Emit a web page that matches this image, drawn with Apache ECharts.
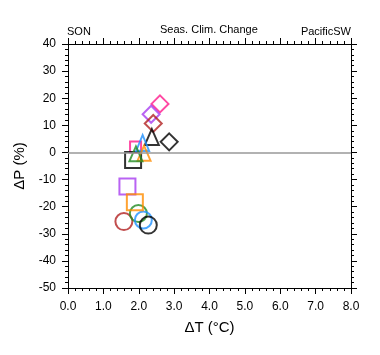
<!DOCTYPE html>
<html>
<head>
<meta charset="utf-8">
<script src="https://cdn.jsdelivr.net/npm/echarts@6/dist/echarts.min.js"></script>
<style>
html,body{margin:0;padding:0;background:#fff;}
#c{width:380px;height:355px;}
</style>
</head>
<body>
<div id="c"></div>
<script>
// ---- data ----
const xTicks = [0, 1, 2, 3, 4, 5, 6, 7, 8];
const yTicks = [-50, -40, -30, -20, -10, 0, 10, 20, 30, 40];
// markers: change in temperature (°C) and precipitation (%)
const dT = [1.58, 1.99, 2.13, 2.27,   1.68, 1.89, 1.91, 1.84,   2.60, 2.35, 2.41, 2.86,   2.37, 2.11, 2.15, 1.92];
const dP = [-25.5, -22.5, -24.9, -26.8, -12.6, -18.4, 2.0, -2.8, 17.9, 14.1, 10.7, 3.9,   5.7, 3.5, -0.3, -0.5];
const titleLeft = 'SON';
const titleCenter = 'Seas. Clim. Change';
const titleRight = 'PacificSW';

// ---- styles ----
const C = {pink:'#ff1a8c', purple:'#a83cf0', red:'#b22222', black:'#000000', blue:'#1e90ff', green:'#228b22', orange:'#ff8c00'};
const markerShape = ['circle','circle','circle','circle','rect','rect','rect','rect','diamond','diamond','diamond','diamond','triangle','triangle','triangle','triangle'];
const markerColor = [C.red, C.green, C.blue, C.black, C.purple, C.orange, C.pink, C.black, C.pink, C.purple, C.red, C.black, C.black, C.blue, C.orange, C.green];
const markerSize = [17,17,17,17, 16,16,11,16, 17,17,17,17, [14,16],[13,16],[13,15],[13,15]];

const FONT = 'Liberation Sans, Arial, Helvetica, sans-serif';

const data = dT.map((t, i) => ({
  value: [t, dP[i]],
  symbol: markerShape[i],
  symbolSize: markerSize[i],
  itemStyle: {color: 'rgba(0,0,0,0)', borderColor: markerColor[i], borderWidth: 2}
}));

const axisCommon = {
  axisLine: {show: true, onZero: false, lineStyle: {color: '#000', width: 1}},
  axisTick: {show: true, inside: false, length: 6, lineStyle: {color: '#000', width: 1}},
  minorTick: {show: true, splitNumber: 5, length: 3, lineStyle: {color: '#000', width: 1}},
  splitLine: {show: false}
};

const titleStyle = {fontSize: 11, fontWeight: 'normal', color: '#000', fontFamily: FONT};

const chart = echarts.init(document.getElementById('c'), null, {renderer: 'canvas'});
chart.setOption({
  animation: false,
  backgroundColor: '#fff',
  textStyle: {fontFamily: FONT},
  title: [
    {text: titleLeft, left: 67, top: 26, padding: 0, textStyle: titleStyle},
    {text: titleCenter, left: 160, top: 24, padding: 0, textStyle: titleStyle},
    {text: titleRight, right: 29, top: 26, padding: 0, textStyle: titleStyle}
  ],
  grid: {left: 68, right: 29, top: 44, bottom: 67, containLabel: false},
  xAxis: [
    Object.assign({}, axisCommon, {
      type: 'value', position: 'bottom', min: xTicks[0], max: xTicks[xTicks.length - 1], interval: 1,
      name: 'ΔT (°C)', nameLocation: 'middle', nameGap: 32,
      nameTextStyle: {fontSize: 15, color: '#000', fontFamily: FONT},
      axisLabel: {show: true, margin: 13, fontSize: 12, color: '#000', fontFamily: FONT, formatter: v => v.toFixed(1)}
    }),
    Object.assign({}, axisCommon, {
      type: 'value', position: 'top', min: xTicks[0], max: xTicks[xTicks.length - 1], interval: 1,
      axisLabel: {show: false}
    })
  ],
  yAxis: [
    Object.assign({}, axisCommon, {
      type: 'value', position: 'left', min: yTicks[0], max: yTicks[yTicks.length - 1], interval: 10,
      name: 'ΔP (%)', nameLocation: 'middle', nameGap: 37, nameRotate: 90,
      nameTextStyle: {fontSize: 15, color: '#000', fontFamily: FONT},
      axisLabel: {show: true, margin: 12, fontSize: 12, color: '#000', fontFamily: FONT}
    }),
    Object.assign({}, axisCommon, {
      type: 'value', position: 'right', min: yTicks[0], max: yTicks[yTicks.length - 1], interval: 10,
      axisLabel: {show: false}
    })
  ],
  series: [
    {
      type: 'scatter', xAxisIndex: 0, yAxisIndex: 0, data: data,
      emphasis: {disabled: true}, silent: true,
      markLine: {
        silent: true, symbol: ['none', 'none'], label: {show: false},
        lineStyle: {color: '#999999', width: 1.5, type: 'solid'},
        data: [{yAxis: 0}]
      },
      z: 3
    }
  ]
});
</script>
</body>
</html>
